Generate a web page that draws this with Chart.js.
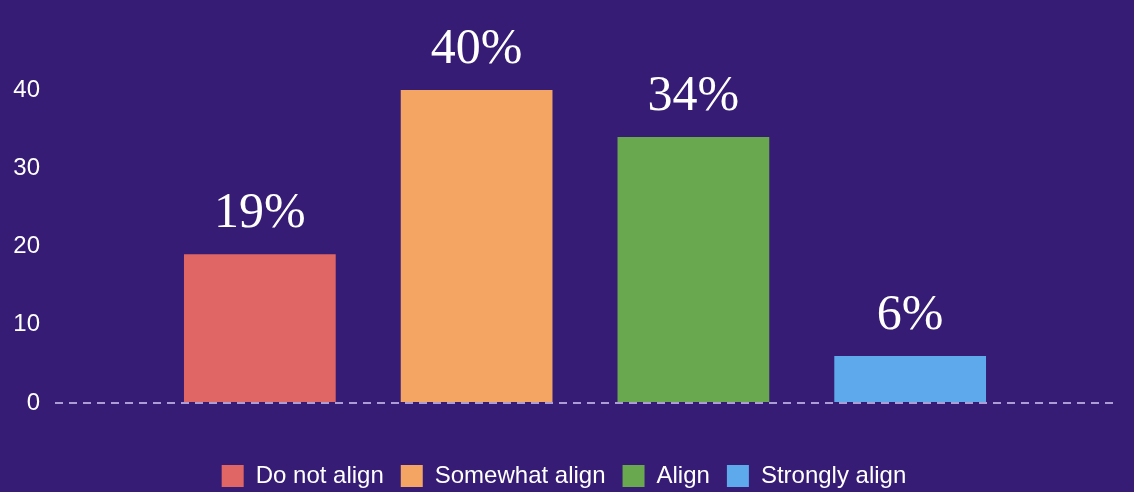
<!DOCTYPE html>
<html>
<head>
<meta charset="utf-8">
<script src="https://cdn.jsdelivr.net/npm/chart.js@4/dist/chart.umd.min.js"></script>
<style>
  html, body { margin: 0; padding: 0; background: #361c74; overflow: hidden; }
  #wrap { width: 1134px; height: 492px; }
</style>
</head>
<body>
<div id="wrap"><canvas id="alignChart"></canvas></div>
<script>
// Chart data
const categories = ['Do not align', 'Somewhat align', 'Align', 'Strongly align'];
const values = [19, 40, 34, 6];
const barColors = ['#e06666', '#f4a564', '#6aa84f', '#5ea9eb'];
const yTicks = [0, 10, 20, 30, 40];

// one dataset per answer so each gets its own legend entry
const datasets = categories.map((name, i) => ({
    label: name,
    data: [values[i]],
    backgroundColor: barColors[i],
    borderWidth: 0
}));

// percent labels above each bar
const percentLabels = {
    id: 'percentLabels',
    afterDatasetsDraw(chart) {
        const ctx = chart.ctx;
        ctx.save();
        ctx.fillStyle = '#ffffff';
        ctx.font = '50px "Liberation Serif", serif';
        ctx.textAlign = 'center';
        ctx.textBaseline = 'alphabetic';
        chart.data.datasets.forEach((ds, i) => {
            const bar = chart.getDatasetMeta(i).data[0];
            if (!bar) return;
            ctx.fillText(ds.data[0] + '%', bar.x, bar.y - 27);
        });
        ctx.restore();
    }
};

Chart.defaults.font.family = '"Liberation Sans", Arial, sans-serif';

new Chart(document.getElementById('alignChart').getContext('2d'), {
    type: 'bar',
    data: { labels: [''], datasets: datasets },
    options: {
        responsive: true,
        maintainAspectRatio: false,
        animation: false,
        categoryPercentage: 0.818,
        barPercentage: 0.7,
        layout: { padding: { top: 90, left: 13, right: 19, bottom: -6 } },
        plugins: {
            legend: {
                position: 'bottom',
                labels: {
                    color: '#ffffff',
                    font: { size: 24 },
                    boxWidth: 22,
                    boxHeight: 22,
                    padding: 17
                }
            },
            tooltip: { enabled: false }
        },
        scales: {
            x: {
                grid: { display: false },
                border: { display: false },
                ticks: { display: false },
                title: {
                    display: true,
                    text: ' ',
                    color: 'transparent',
                    font: { size: 20 },
                    padding: { top: 0, bottom: 12 }
                }
            },
            y: {
                min: 0,
                max: 40,
                afterBuildTicks(scale) {
                    scale.ticks = yTicks.map(v => ({ value: v }));
                },
                afterFit(scale) {
                    scale.width = 42;
                },
                ticks: {
                    color: '#ffffff',
                    font: { size: 24 },
                    padding: 15
                },
                grid: {
                    drawTicks: false,
                    lineWidth: 2,
                    color: (c) => c.tick && c.tick.value === 0 ? '#ad9dd6' : 'transparent'
                },
                border: { display: false, dash: [8, 6] }
            }
        }
    },
    plugins: [percentLabels]
});
</script>
</body>
</html>
